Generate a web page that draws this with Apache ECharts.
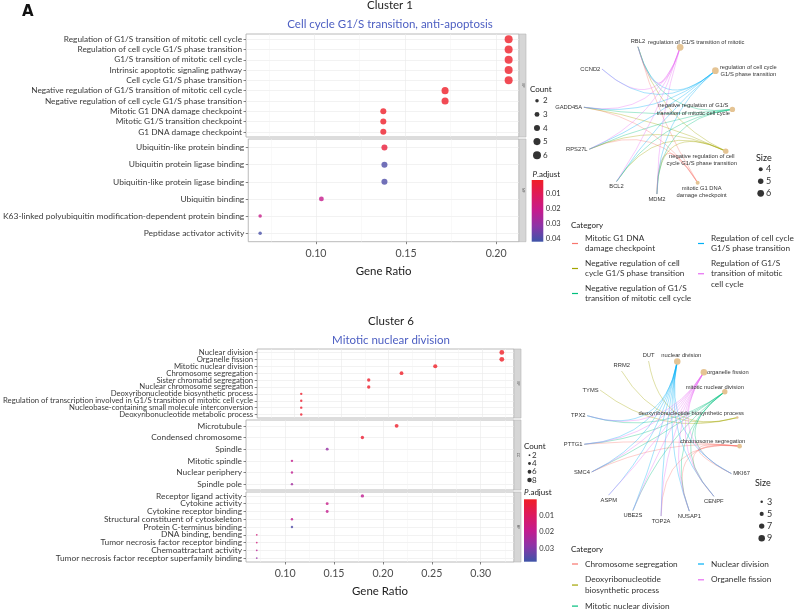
<!DOCTYPE html>
<html><head><meta charset="utf-8">
<script src="https://cdn.jsdelivr.net/npm/echarts@6/dist/echarts.min.js"></script>
<style>html,body{margin:0;padding:0;background:#fff}#c{width:794px;height:609px}</style>
</head><body><div id="c"></div>
<script>
// ================= DATA =================
// ---- Cluster 1 dot plot ----
const c1BpTerms = ['Regulation of G1/S transition of mitotic cell cycle','Regulation of cell cycle G1/S phase transition','G1/S transition of mitotic cell cycle','Intrinsic apoptotic signaling pathway','Cell cycle G1/S phase transition','Negative regulation of G1/S transition of mitotic cell cycle','Negative regulation of cell cycle G1/S phase transition','Mitotic G1 DNA damage checkpoint','Mitotic G1/S transition checkpoint','G1 DNA damage checkpoint'];
const c1BpRatio = [0.207,0.207,0.207,0.207,0.207,0.172,0.172,0.138,0.138,0.138];
const c1BpCount = [6,6,6,6,6,5,5,4,4,4];
const c1BpPadj  = [0.0008,0.0008,0.0012,0.0015,0.0015,0.0009,0.0012,0.0010,0.0010,0.0015];

const c1MfTerms = ['Ubiquitin-like protein binding','Ubiquitin protein ligase binding','Ubiquitin-like protein ligase binding','Ubiquitin binding','K63-linked polyubiquitin modification-dependent protein binding','Peptidase activator activity'];
const c1MfRatio = [0.138,0.138,0.138,0.103,0.069,0.069];
const c1MfCount = [4,4,4,3,2,2];
const c1MfPadj  = [0.004,0.040,0.040,0.021,0.020,0.041];

const c1XRange = [0.0624,0.2127];
const c1XTicks = [0.10,0.15,0.20];
const c1XMinor = [0.075,0.125,0.175];
const c1PRange = [0.0005,0.0423];
const c1PTicks = [0.01,0.02,0.03,0.04];
const c1CountKeys = [2,3,4,5,6];

// ---- Cluster 6 dot plot ----
const c6BpTerms = ['Nuclear division','Organelle fission','Mitotic nuclear division','Chromosome segregation','Sister chromatid segregation','Nuclear chromosome segregation','Deoxyribonucleotide biosynthetic process','Regulation of transcription involved in G1/S transition of mitotic cell cycle','Nucleobase-containing small molecule interconversion','Deoxyribonucleotide metabolic process'];
const c6BpRatio = [0.321,0.321,0.250,0.214,0.179,0.179,0.107,0.107,0.107,0.107];
const c6BpCount = [9,9,7,6,5,5,3,3,3,3];
const c6BpPadj  = [0.0001,0.0001,0.0002,0.0004,0.0008,0.0008,0.0012,0.0015,0.0015,0.0016];

const c6CcTerms = ['Microtubule','Condensed chromosome','Spindle','Mitotic spindle','Nuclear periphery','Spindle pole'];
const c6CcRatio = [0.214,0.179,0.143,0.107,0.107,0.107];
const c6CcCount = [6,5,4,3,3,3];
const c6CcPadj  = [0.001,0.002,0.027,0.019,0.020,0.025];

const c6MfTerms = ['Receptor ligand activity','Cytokine activity','Cytokine receptor binding','Structural constituent of cytoskeleton','Protein C-terminus binding','DNA binding, bending','Tumor necrosis factor receptor binding','Chemoattractant activity','Tumor necrosis factor receptor superfamily binding'];
const c6MfRatio = [0.179,0.143,0.143,0.107,0.107,0.071,0.071,0.071,0.071];
const c6MfCount = [5,4,4,3,3,2,2,2,2];
const c6MfPadj  = [0.020,0.018,0.019,0.019,0.036,0.015,0.015,0.021,0.027];

const c6XRange = [0.060,0.334];
const c6XTicks = [0.10,0.15,0.20,0.25,0.30];
const c6XMinor = [0.075,0.125,0.175,0.225,0.275,0.325];
const c6PRange = [0.00001,0.0382];
const c6PTicks = [0.01,0.02,0.03];
const c6CountKeys = [2,4,6,8];

// ---- Cluster 1 network (nodes in ring order, clockwise) ----
const net1Ring = ['negative regulation of cell cycle G1/S phase transition','mitotic G1 DNA damage checkpoint','MDM2','BCL2','RPS27L','GADD45A','CCND2','RBL2','regulation of G1/S transition of mitotic cell cycle','regulation of cell cycle G1/S phase transition','negative regulation of G1/S transition of mitotic cell cycle'];
const net1Terms = ['mitotic G1 DNA damage checkpoint','negative regulation of cell cycle G1/S phase transition','negative regulation of G1/S transition of mitotic cell cycle','regulation of cell cycle G1/S phase transition','regulation of G1/S transition of mitotic cell cycle'];
const net1Category = ['Mitotic G1 DNA damage checkpoint','Negative regulation of cell cycle G1/S phase transition','Negative regulation of G1/S transition of mitotic cell cycle','Regulation of cell cycle G1/S phase transition','Regulation of G1/S transition of mitotic cell cycle'];
const net1TermSize = [4,5,5,6,6];
const net1TermGenes = [
  ['RBL2','GADD45A','RPS27L','MDM2'],
  ['RBL2','GADD45A','RPS27L','BCL2','MDM2'],
  ['RBL2','GADD45A','RPS27L','BCL2','MDM2'],
  ['RBL2','CCND2','GADD45A','RPS27L','BCL2','MDM2'],
  ['RBL2','CCND2','GADD45A','RPS27L','BCL2','MDM2']
];
const net1SizeKeys = [4,5,6];

// ---- Cluster 6 network (nodes in ring order, clockwise) ----
const net6Ring = ['chromosome segregation','MKI67','CENPF','NUSAP1','TOP2A','UBE2S','ASPM','SMC4','PTTG1','TPX2','TYMS','RRM2','DUT','nuclear division','organelle fission','mitotic nuclear division','deoxyribonucleotide biosynthetic process'];
const net6Terms = ['chromosome segregation','deoxyribonucleotide biosynthetic process','mitotic nuclear division','nuclear division','organelle fission'];
const net6Category = ['Chromosome segregation','Deoxyribonucleotide biosynthetic process','Mitotic nuclear division','Nuclear division','Organelle fission'];
const net6TermSize = [6,3,7,9,9];
const net6TermGenes = [
  ['PTTG1','SMC4','TOP2A','NUSAP1','CENPF','MKI67'],
  ['DUT','RRM2','TYMS'],
  ['TPX2','PTTG1','SMC4','UBE2S','NUSAP1','CENPF','MKI67'],
  ['TPX2','PTTG1','SMC4','ASPM','UBE2S','TOP2A','NUSAP1','CENPF','MKI67'],
  ['TPX2','PTTG1','SMC4','ASPM','UBE2S','TOP2A','NUSAP1','CENPF','MKI67']
];
const net6SizeKeys = [3,5,7,9];

// ================= STYLES =================
const AX = 'Lato';
const NETF = 'Liberation Sans';
const HUE = ['#F8766D','#A3A500','#00BF7D','#00B0F6','#E76BF3'];
const PCOL = ['#F01E26','#DD1A5E','#C41B8E','#8C35A7','#3E54A8'];
const TERM_COL = '#E5C494';

// font size that makes strings as wide as they are in the reference picture
const mctx = document.createElement('canvas').getContext('2d');
function fit(pairs, family, weight){
  let s = 0;
  pairs.forEach(p=>{ mctx.font = (weight||'normal') + ' 100px "' + family + '"'; s += 100 * p[1] / mctx.measureText(p[0]).width; });
  return s / pairs.length;
}
const F = {
  c1bp: fit([['Regulation of G1/S transition of mitotic cell cycle',179],['Mitotic G1 DNA damage checkpoint',132]], AX),
  c1mf: fit([['K63-linked polyubiquitin modification-dependent protein binding',240],['Ubiquitin-like protein binding',109]], AX),
  c6bp: fit([['Deoxyribonucleotide metabolic process',130],['Nucleobase-containing small molecule interconversion',190]], AX),
  c6cc: fit([['Condensed chromosome',92],['Nuclear periphery',65]], AX),
  c6mf: fit([['Tumor necrosis factor receptor superfamily binding',188],['Structural constituent of cytoskeleton',137]], AX),
  tick: fit([['0.10',21]], AX),
  xname: fit([['Gene Ratio',56]], AX),
  title: fit([['Cell cycle G1/S transition, anti-apoptosis',207],['Mitotic nuclear division',119],['Cluster 1',45]], AX),
  leg: fit([['Negative regulation of cell',97.7],['Chromosome segregation',95],['Regulation of cell cycle',78],['Mitotic nuclear division',85],['Organelle fission',60.3]], AX),
  legT: fit([['Category',32],['Count',21.7]], AX),
  pbar: fit([['0.01',14.8]], AX),
  net: fit([['regulation of G1/S transition of mitotic',95],['GADD45A',26],['deoxyribonucleotide biosynthetic process',107],['chromosome segregation',68]], NETF)
};

function sizeDot1(c){ return 3.5 + 4.5*(Math.sqrt(c)-Math.SQRT2)/(Math.sqrt(6)-Math.SQRT2); }
function sizeDot6(c){ return 1.8 + 3.0*(Math.sqrt(c)-Math.SQRT2)/(3-Math.SQRT2); }
function sizeNode1(s){ return 4 + 2.7*(Math.sqrt(s)-2)/(Math.sqrt(6)-2); }
function sizeNode6(s){ return 2.5 + 4.0*(Math.sqrt(s)-Math.sqrt(3))/(3-Math.sqrt(3)); }

const net1Label = {
  'regulation of G1/S transition of mitotic cell cycle': {text:'regulation of G1/S transition of mitotic', offset:[16,-5]},
  'regulation of cell cycle G1/S phase transition': {text:'regulation of cell cycle\nG1/S phase transition', offset:[33,0]},
  'negative regulation of G1/S transition of mitotic cell cycle': {text:'negative regulation of G1/S\ntransition of mitotic cell cycle', offset:[-39,0]},
  'negative regulation of cell cycle G1/S phase transition': {text:'negative regulation of cell\ncycle G1/S phase transition', offset:[-24,9]},
  'mitotic G1 DNA damage checkpoint': {text:'mitotic G1 DNA\ndamage checkpoint', offset:[4,9]},
  'RBL2':'top','CCND2':'left','GADD45A':'left','RPS27L':'left','BCL2':'bottom','MDM2':'bottom'
};
const net6Label = {
  'nuclear division': {text:'nuclear division', offset:[4,-6]},
  'organelle fission': {text:'organelle fission', offset:[24,0]},
  'mitotic nuclear division': {text:'mitotic nuclear division', offset:[-10,-4]},
  'deoxyribonucleotide biosynthetic process': {text:'deoxyribonucleotide biosynthetic process', offset:[-46,-4]},
  'chromosome segregation': {text:'chromosome segregation', offset:[-27,-5]},
  'DUT':'top','RRM2':'top','TYMS':'left','TPX2':'left','PTTG1':'left','SMC4':'left','ASPM':'bottom','UBE2S':'bottom','TOP2A':'bottom','NUSAP1':'bottom','CENPF':'bottom','MKI67':'right'
};
const legendWrap = {
  'Mitotic G1 DNA damage checkpoint':'Mitotic G1 DNA\ndamage checkpoint',
  'Negative regulation of cell cycle G1/S phase transition':'Negative regulation of cell\ncycle G1/S phase transition',
  'Negative regulation of G1/S transition of mitotic cell cycle':'Negative regulation of G1/S\ntransition of mitotic cell cycle',
  'Regulation of cell cycle G1/S phase transition':'Regulation of cell cycle\nG1/S phase transition',
  'Regulation of G1/S transition of mitotic cell cycle':'Regulation of G1/S\ntransition of mitotic\ncell cycle',
  'Deoxyribonucleotide biosynthetic process':'Deoxyribonucleotide\nbiosynthetic process'
};

// ================= BUILD =================
const grids=[], xAxes=[], yAxes=[], series=[], graphics=[], legends=[];
const polars=[], angleAxes=[], radiusAxes=[];
const dot1Series=[], dot6Series=[];

function addFacet(box, terms, ratio, count, padj, xr, ticks, minor, showX, yFont, sizeFn, strip, bucket){
  const gi = grids.length;
  grids.push({left:box[0], top:box[1], width:box[2], height:box[3], show:true, borderColor:'#a8a8a8', borderWidth:0.8, backgroundColor:'#fff'});
  const xi = xAxes.length;
  xAxes.push({gridIndex:gi, type:'value', min:xr[0], max:xr[1], position:'bottom', z:3,
    axisLine:{show:false, onZero:false},
    axisTick:{show:showX, customValues:ticks, length:2.5, lineStyle:{color:'#333',width:0.6}},
    axisLabel:{show:showX, customValues:ticks, formatter:v=>v.toFixed(2), fontSize:F.tick, color:'#4d4d4d', margin:6, fontFamily:AX, showMinLabel:true, showMaxLabel:true},
    splitLine:{show:true, lineStyle:{color:'#e9e9e9', width:0.6}},
    name: showX ? 'Gene Ratio' : '', nameLocation:'middle', nameGap:24,
    nameTextStyle:{fontSize:F.xname, color:'#222', fontFamily:AX}});
  xAxes.push({gridIndex:gi, type:'value', min:xr[0], max:xr[1], position:'top', z:2,
    axisLine:{show:false, onZero:false}, axisTick:{show:false, customValues:minor}, axisLabel:{show:false},
    splitLine:{show:true, lineStyle:{color:'#f3f3f3', width:0.5}}});
  // value axis carries the points and the row grid lines
  const yi = yAxes.length;
  const idx = terms.map((t,i)=>i);
  yAxes.push({gridIndex:gi, type:'value', inverse:true, min:-0.5, max:terms.length-0.5, position:'left', offset:0,
    axisLine:{show:false, onZero:false}, axisTick:{show:false, customValues:idx}, axisLabel:{show:false},
    splitLine:{show:true, lineStyle:{color:'#e9e9e9', width:0.6}}});
  // category axis carries the term labels
  yAxes.push({gridIndex:gi, type:'category', inverse:true, data:terms, position:'left', offset:0,
    axisLine:{show:false, onZero:false},
    axisTick:{show:true, alignWithLabel:true, interval:0, length:2.5, lineStyle:{color:'#333',width:0.6}},
    axisLabel:{interval:0, fontSize:yFont, color:'#3a3a3a', margin:4, fontFamily:AX},
    splitLine:{show:false}});
  bucket.push(series.length);
  series.push({type:'scatter', xAxisIndex:xi, yAxisIndex:yi, silent:true, z:5,
    data: terms.map((t,i)=>[ratio[i], i, padj[i], count[i], t]),
    symbolSize: v=>sizeFn(v[3])});
  graphics.push({type:'rect', shape:{x:box[0]+box[2], y:box[1], width:7, height:box[3]}, style:{fill:'#d6d6d6', stroke:'#b5b5b5', lineWidth:0.6}});
  graphics.push({type:'text', x:box[0]+box[2]+3.5, y:box[1]+box[3]/2, rotation:-Math.PI/2, style:{text:strip, fontSize:3, fill:'#555', align:'center', verticalAlign:'middle'}});
}

function addColorbar(box, pr, ticks){
  const gi = grids.length;
  grids.push({left:box[0], top:box[1], width:box[2], height:box[3], show:false});
  const xi = xAxes.length;
  xAxes.push({gridIndex:gi, type:'category', data:['P.adjust'], show:false});
  const yi = yAxes.length;
  yAxes.push({gridIndex:gi, type:'value', inverse:true, min:pr[0], max:pr[1], position:'right',
    axisLine:{show:false, onZero:false}, axisTick:{show:false}, splitLine:{show:false},
    axisLabel:{customValues:ticks, formatter:v=>v.toFixed(2), fontSize:F.pbar, lineHeight:9, color:'#333', margin:2.5, fontFamily:AX, showMinLabel:true, showMaxLabel:true, hideOverlap:false}});
  series.push({type:'bar', xAxisIndex:xi, yAxisIndex:yi, silent:true, barWidth:'100%',
    data:[pr[1]],
    itemStyle:{color:new echarts.graphic.LinearGradient(0,0,0,1, PCOL.map((c,i)=>({offset:i/(PCOL.length-1), color:c})))}});
}

function addSizeKey(box, keys, sizeFn, color, margin, font){
  const gi = grids.length;
  grids.push({left:box[0], top:box[1], width:box[2], height:box[3], show:false});
  const xi = xAxes.length;
  xAxes.push({gridIndex:gi, type:'value', min:-1, max:1, show:false});
  const yi = yAxes.length;
  const gap = box[3] / keys.length;
  yAxes.push({gridIndex:gi, type:'value', inverse:true, min:-0.5, max:keys.length-0.5, position:'right',
    axisLine:{show:false, onZero:false}, axisTick:{show:false}, splitLine:{show:false},
    axisLabel:{customValues:keys.map((k,i)=>i), formatter:v=>String(keys[v]), fontSize:font, lineHeight:Math.min(font, gap*0.8),
      color:'#333', margin:margin, fontFamily:AX, showMinLabel:true, showMaxLabel:true, hideOverlap:false}});
  series.push({type:'scatter', xAxisIndex:xi, yAxisIndex:yi, silent:true,
    data: keys.map((k,i)=>[0,i,k]), symbolSize:v=>sizeFn(v[2]), itemStyle:{color:color}});
}

// curveness that pulls each edge's control point toward the ring centre
function ringCurve(ks, kt, n, pull){
  const dk = ((kt - ks) % n + n) % n;
  const cw = dk <= n/2;
  const steps = cw ? dk : n - dk;
  const phi = steps * 2 * Math.PI / n;
  const mag = pull / (2 * Math.tan(phi / 2));
  return cw ? -mag : mag;
}

function addNetwork(center, radius, startAngle, ring, terms, sizes, genesOf, cats, labelMap, sizeFn){
  const pi = polars.length;
  polars.push({center:center, radius:radius});
  angleAxes.push({polarIndex:pi, type:'category', data:ring, startAngle:startAngle, clockwise:true, show:false});
  radiusAxes.push({polarIndex:pi, type:'value', min:0, max:1, show:false});
  const nodes = ring.map((n,k)=>{
    const ti = terms.indexOf(n);
    if (ti >= 0) {
      const lm = labelMap[n];
      return {name:n, value:[1,k], symbolSize:sizeFn(sizes[ti]), itemStyle:{color:TERM_COL},
        label:{position:'inside', offset:lm.offset, formatter:lm.text, align:'center'}};
    }
    return {name:n, value:[1,k], symbolSize:0.5, itemStyle:{color:'#b0b0b0'},
      label:{position:labelMap[n], distance:1.5}};
  });
  const links = [];
  terms.forEach((t,ti)=>genesOf[ti].forEach(g=>{
    links.push({source:g, target:t,
      lineStyle:{color:HUE[ti], curveness:ringCurve(ring.indexOf(g), ring.indexOf(t), ring.length, 1.0)}});
  }));
  series.push({type:'graph', coordinateSystem:'polar', polarIndex:pi, layout:'none', silent:true, z:4,
    data:nodes, links:links,
    lineStyle:{width:0.7, opacity:0.5},
    label:{show:true, fontSize:F.net, color:'#333', fontFamily:NETF, lineHeight:F.net*1.25},
    emphasis:{disabled:true}});
  cats.forEach((c,ti)=>series.push({type:'line', name:c, xAxisIndex:0, yAxisIndex:0, data:[],
    itemStyle:{color:HUE[ti]}, lineStyle:{color:HUE[ti]}}));
}

function legendCol(left, top, names, gap){
  legends.push({left:left, top:top, height:80, orient:'vertical', padding:0, itemGap:gap, itemWidth:6, itemHeight:1.2,
    icon:'rect', selectedMode:false, data:names, formatter:n=>legendWrap[n]||n,
    textStyle:{fontSize:F.leg, lineHeight:10.5, color:'#333', fontFamily:AX, padding:[0,0,0,2]}});
}

function txt(x, y, text, opt){
  graphics.push({type:'text', x:x, y:y, style:Object.assign({text:text, fontSize:10, fontFamily:AX, fill:'#222', align:'left', verticalAlign:'middle'}, opt||{})});
}

// ---- panel 1 ----
addFacet([246,34,273,103], c1BpTerms, c1BpRatio, c1BpCount, c1BpPadj, c1XRange, c1XTicks, c1XMinor, false, F.c1bp, sizeDot1, 'BP', dot1Series);
addFacet([246,139,273,102.7], c1MfTerms, c1MfRatio, c1MfCount, c1MfPadj, c1XRange, c1XTicks, c1XMinor, true, F.c1mf, sizeDot1, 'MF', dot1Series);
addColorbar([531.7,180,11.6,61.7], c1PRange, c1PTicks);
addSizeKey([534,94,6,68], c1CountKeys, sizeDot1, '#000', 3, F.legT);
// ---- panel 6 ----
addFacet([246,349,268,69], c6BpTerms, c6BpRatio, c6BpCount, c6BpPadj, c6XRange, c6XTicks, c6XMinor, false, F.c6bp, sizeDot6, 'BP', dot6Series);
addFacet([246,420,268,70], c6CcTerms, c6CcRatio, c6CcCount, c6CcPadj, c6XRange, c6XTicks, c6XMinor, false, F.c6cc, sizeDot6, 'CC', dot6Series);
addFacet([246,492,268,70], c6MfTerms, c6MfRatio, c6MfCount, c6MfPadj, c6XRange, c6XTicks, c6XMinor, true, F.c6mf, sizeDot6, 'MF', dot6Series);
addColorbar([524,499.3,12.7,62.4], c6PRange, c6PTicks);
addSizeKey([527.5,451,4,33.2], c6CountKeys, sizeDot6, '#000', 0.5, F.legT);
// ---- networks ----
addNetwork([658,119], 75, -9, net1Ring, net1Terms, net1TermSize, net1TermGenes, net1Category, net1Label, sizeNode1);
addSizeKey([758.7,163.3,4,36], net1SizeKeys, sizeNode1, '#000', 3.3, 9);
addNetwork([662,438], 78, 4.6, net6Ring, net6Terms, net6TermSize, net6TermGenes, net6Category, net6Label, sizeNode6);
addSizeKey([759.7,495.6,4,48.8], net6SizeKeys, sizeNode6, '#000', 3.3, 9);

legendCol(572, 233, net1Category.slice(0,3), 4);
legendCol(698, 233, net1Category.slice(3), 4);
legendCol(572, 558.75, net6Category.slice(0,3), 5.3);
legendCol(698, 558.75, net6Category.slice(3), 5.3);

// ---- texts ----
txt(22, 12.5, 'A', {fontSize:15, fontWeight:'bold', fontFamily:'DejaVu Sans', fill:'#111'});
txt(390, 5.5, 'Cluster 1', {align:'center', fontSize:F.title});
txt(390, 24, 'Cell cycle G1/S transition, anti-apoptosis', {align:'center', fontSize:F.title, fill:'#4C5EC2'});
txt(391, 321.5, 'Cluster 6', {align:'center', fontSize:F.title});
txt(391, 340.7, 'Mitotic nuclear division', {align:'center', fontSize:F.title, fill:'#4C5EC2'});
const pRich = {i:{fontStyle:'italic', fontSize:F.legT, fontFamily:AX, fill:'#222'}};
txt(530, 89, 'Count', {fontSize:F.legT});
txt(532.5, 174, '{i|P}.adjust', {fontSize:F.legT, rich:pRich});
txt(524, 446, 'Count', {fontSize:F.legT});
txt(524, 492, '{i|P}.adjust', {fontSize:F.legT, rich:pRich});
txt(756, 157.7, 'Size', {fontSize:9});
txt(755, 483.3, 'Size', {fontSize:9});
txt(571, 225, 'Category', {fontSize:F.legT});
txt(571, 549, 'Category', {fontSize:F.legT});

const option = {
  animation:false,
  backgroundColor:'#fff',
  grid:grids, xAxis:xAxes, yAxis:yAxes,
  polar:polars, angleAxis:angleAxes, radiusAxis:radiusAxes,
  series:series, legend:legends,
  visualMap:[
    {type:'continuous', show:false, dimension:2, seriesIndex:dot1Series, min:c1PRange[0], max:c1PRange[1], inRange:{color:PCOL}},
    {type:'continuous', show:false, dimension:2, seriesIndex:dot6Series, min:c6PRange[0], max:c6PRange[1], inRange:{color:PCOL}}
  ],
  graphic:{elements:graphics}
};
const chart = echarts.init(document.getElementById('c'));
chart.setOption(option);
</script>
</body></html>
